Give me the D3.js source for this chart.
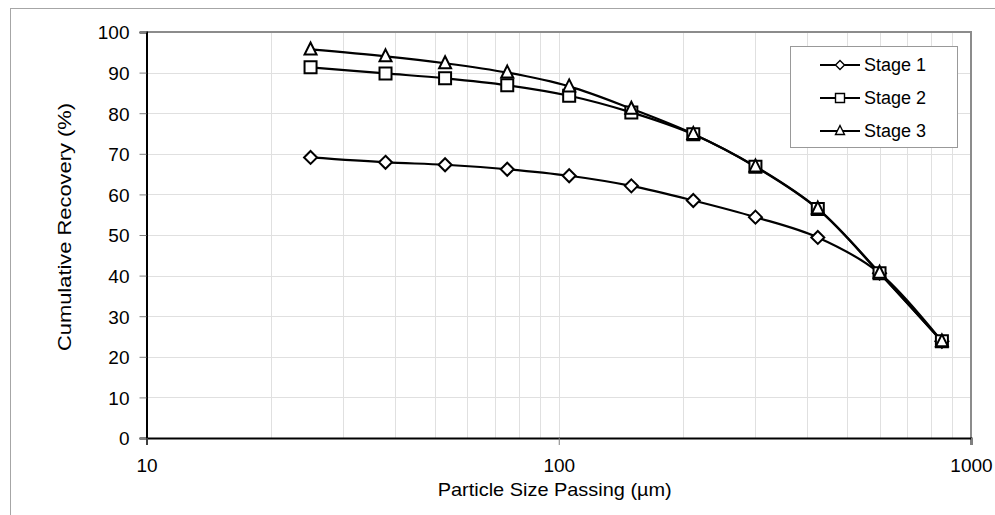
<!DOCTYPE html>
<html>
<head>
<meta charset="utf-8">
<script src="https://cdn.jsdelivr.net/npm/d3@7"></script>
<style>
  html, body { margin: 0; padding: 0; background: #fff; }
  svg { display: block; font-family: "Liberation Sans", Arial, sans-serif; }
</style>
</head>
<body>
<svg id="chart" width="995" height="515"></svg>
<script>
// ---- data ----
const sizes = [25, 38, 53, 75, 106, 150, 212, 300, 425, 600, 850];
const stage1 = [69.1, 67.9, 67.3, 66.2, 64.6, 62.1, 58.5, 54.4, 49.4, 40.6, 23.8];
const stage2 = [91.3, 89.8, 88.6, 86.9, 84.3, 80.2, 74.8, 66.8, 56.4, 40.6, 23.8];
const stage3 = [95.7, 94.0, 92.3, 90.0, 86.6, 81.1, 74.9, 66.9, 56.5, 40.7, 23.8];
const seriesNames = ["Stage 1", "Stage 2", "Stage 3"];
const markerTypes = ["diamond", "square", "triangle"];
const xTicks = [10, 100, 1000];
const yTicks = [0, 10, 20, 30, 40, 50, 60, 70, 80, 90, 100];
const xTitle = "Particle Size Passing (µm)";
const yTitle = "Cumulative Recovery (%)";

const series = [stage1, stage2, stage3].map((vals, i) => ({
  name: seriesNames[i], marker: markerTypes[i],
  points: sizes.map((s, j) => ({x: s, y: vals[j]}))
}));

// ---- layout ----
const svg = d3.select("#chart");
const L = 146.5, R = 971, T = 32, B = 438;
const x = d3.scaleLog().domain([10, 1000]).range([L, R]);
const y = d3.scaleLinear().domain([0, 100]).range([B, T]);

// outer chart border
svg.append("rect").attr("x", 10.5).attr("y", 8.5).attr("width", 1000).attr("height", 600)
  .attr("fill", "none").attr("stroke", "#a6a6a6").attr("stroke-width", 1);

// gridlines
const minor = [];
for (let d = 10; d < 1000; d *= 10) for (let k = 2; k <= 9; k++) minor.push(d * k);
svg.append("g").selectAll("line.vg").data(minor.concat([100])).join("line")
  .attr("x1", d => Math.round(x(d)) + 0.5).attr("x2", d => Math.round(x(d)) + 0.5)
  .attr("y1", T).attr("y2", B).attr("stroke", "#e0e0e0").attr("stroke-width", 1);
svg.append("g").selectAll("line.hg").data(yTicks.filter(v => v > 0 && v < 100)).join("line")
  .attr("x1", L).attr("x2", R)
  .attr("y1", d => Math.round(y(d)) + 0.5).attr("y2", d => Math.round(y(d)) + 0.5)
  .attr("stroke", "#e0e0e0").attr("stroke-width", 1);

// plot area border (top/right gray)
svg.append("path").attr("d", `M${L},${T}H${R}V${B}`).attr("fill", "none")
  .attr("stroke", "#8c8c8c").attr("stroke-width", 2);

// axes
const yAxis = d3.axisLeft(y).tickValues(yTicks).tickSize(7).tickPadding(10);
const gy = svg.append("g").attr("transform", `translate(${L},0)`).call(yAxis);
const xAxis = d3.axisBottom(x).tickValues(xTicks).tickFormat(d3.format("d")).tickSize(7).tickPadding(12);
const gx = svg.append("g").attr("transform", `translate(0,${B})`).call(xAxis);
[gx, gy].forEach(g => {
  g.select(".domain").attr("stroke", "#000").attr("stroke-width", 2);
  g.selectAll(".tick line").attr("stroke", "#808080").attr("stroke-width", 1);
  g.selectAll(".tick text").attr("fill", "#000").style("font-size", "19px")
    .style("font-family", "'Liberation Sans', Arial, sans-serif");
});
gy.selectAll(".tick text").attr("dy", "0.36em");
gx.selectAll(".tick text").attr("dy", "0.78em");

// axis titles
svg.append("text").attr("x", (L + R) / 2 - 4).attr("y", 496).attr("text-anchor", "middle")
  .style("font-size", "19px").attr("textLength", 234).attr("lengthAdjust", "spacingAndGlyphs")
  .text(xTitle);
svg.append("text").attr("transform", `translate(71,${(T + B) / 2 - 8}) rotate(-90)`)
  .attr("text-anchor", "middle").style("font-size", "19px")
  .attr("textLength", 248).attr("lengthAdjust", "spacingAndGlyphs")
  .text(yTitle);

// markers
function markerPath(type, s) {
  const h = s / 2;
  if (type === "diamond") return `M0,${-h}L${h},0L0,${h}L${-h},0Z`;
  if (type === "square") return `M${-h},${-h}H${h}V${h}H${-h}Z`;
  return `M0,${-h - 1}L${h},${h - 1}H${-h}Z`;
}

const line = d3.line().x(d => x(d.x)).y(d => y(d.y)).curve(d3.curveCatmullRom.alpha(0.5));
const gS = svg.append("g");
series.forEach(s => {
  gS.append("path").attr("d", line(s.points)).attr("fill", "none")
    .attr("stroke", "#000").attr("stroke-width", 2.2);
});
series.forEach(s => {
  gS.append("g").selectAll("path").data(s.points).join("path")
    .attr("transform", d => `translate(${x(d.x)},${y(d.y)})`)
    .attr("d", markerPath(s.marker, s.marker === "diamond" ? 13 : 12))
    .attr("fill", "#fff").attr("stroke", "#000").attr("stroke-width", 2);
});

// legend
const lg = svg.append("g");
lg.append("rect").attr("x", 790.5).attr("y", 46.5).attr("width", 167).attr("height", 101)
  .attr("fill", "#fff").attr("stroke", "#999").attr("stroke-width", 1);
series.forEach((s, i) => {
  const yy = 65 + i * 33;
  lg.append("line").attr("x1", 820).attr("x2", 860).attr("y1", yy).attr("y2", yy)
    .attr("stroke", "#000").attr("stroke-width", 2);
  lg.append("path").attr("transform", `translate(840,${yy})`)
    .attr("d", markerPath(s.marker, 9)).attr("fill", "#fff").attr("stroke", "#000").attr("stroke-width", 1.4);
  lg.append("text").attr("x", 864).attr("y", yy).attr("dy", "0.36em")
    .style("font-size", "18px").text(s.name);
});
</script>
</body>
</html>
